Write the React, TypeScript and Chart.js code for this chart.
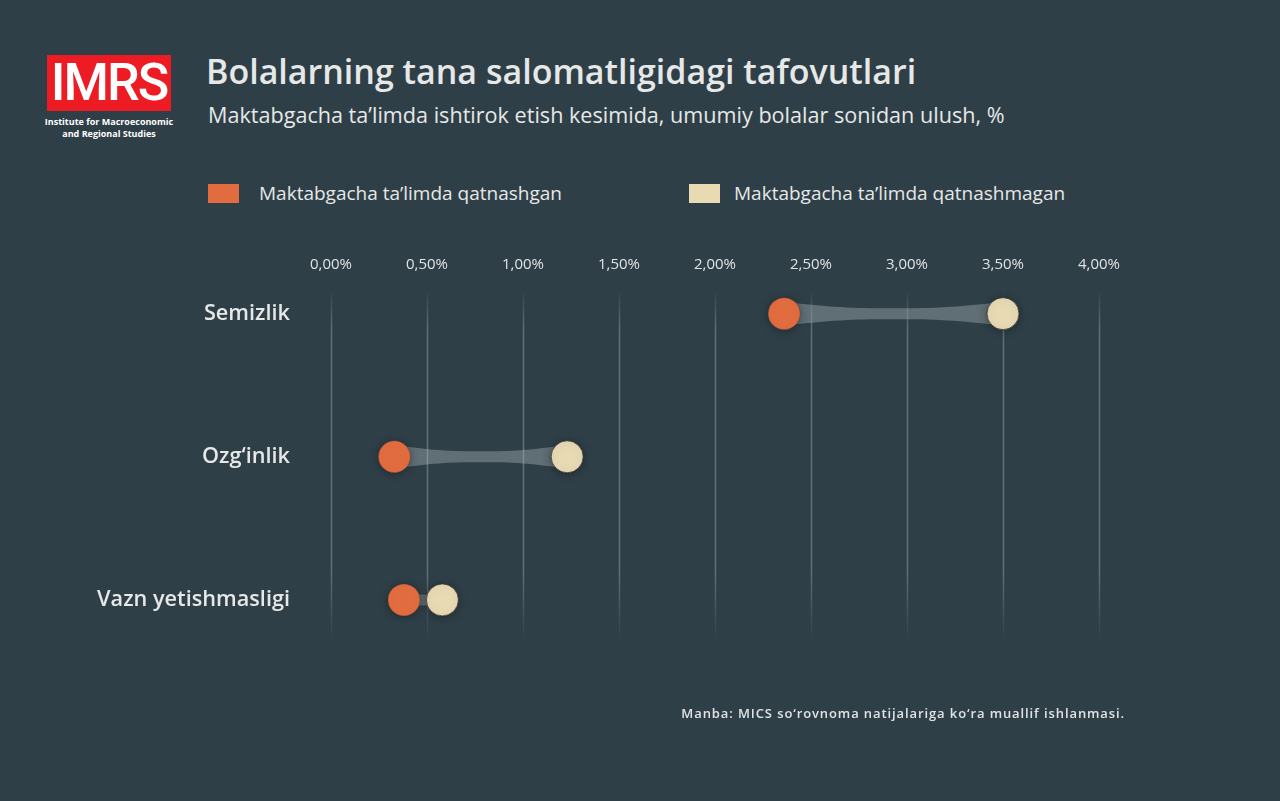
import React, { useEffect, useRef } from "react";
import { Chart, registerables } from "chart.js";

Chart.register(...registerables);

const categories = ["Semizlik", "Ozg‘inlik", "Vazn yetishmasligi"];
const attendedValues = [2.36, 0.33, 0.38];
const notAttendedValues = [3.5, 1.23, 0.58];
const xTicks = [0, 0.5, 1, 1.5, 2, 2.5, 3, 3.5, 4];
const seriesNames = ["Maktabgacha ta’limda qatnashgan", "Maktabgacha ta’limda qatnashmagan"];

const BG = "#2f3f47";
const ORANGE = "#e06c3f";
const CREAM = "#e8dab3";
const TEXT = "#e6e8e8";

const fmt = (v: number) => v.toFixed(2).replace(".", ",") + "%";

const connectorPlugin = {
  id: "connectors",
  beforeDatasetsDraw(chart: any) {
    const { ctx, scales } = chart;
    const xs = scales.x;
    const ys = scales.y;
    ctx.save();
    xTicks.forEach((t) => {
      const x = Math.round(xs.getPixelForValue(t)) + 0.5;
      const top = 288;
      const bottom = 642;
      const g = ctx.createLinearGradient(0, top, 0, bottom);
      g.addColorStop(0, "rgba(140,155,162,0)");
      g.addColorStop(0.12, "rgba(140,155,162,0.55)");
      g.addColorStop(0.8, "rgba(140,155,162,0.55)");
      g.addColorStop(1, "rgba(140,155,162,0)");
      ctx.strokeStyle = g;
      ctx.lineWidth = 1.5;
      ctx.beginPath();
      ctx.moveTo(x, top);
      ctx.lineTo(x, bottom);
      ctx.stroke();
    });
    categories.forEach((_, i) => {
      const x1 = xs.getPixelForValue(attendedValues[i]);
      const x2 = xs.getPixelForValue(notAttendedValues[i]);
      const y = ys.getPixelForValue(i);
      const endH = 12;
      const midH = 5.5;
      const mx = (x1 + x2) / 2;
      const d = (x2 - x1) / 2;
      ctx.fillStyle = "rgba(175,188,192,0.38)";
      ctx.beginPath();
      ctx.moveTo(x1, y - endH);
      ctx.bezierCurveTo(x1 + d * 0.5, y - midH, mx - d * 0.3, y - midH, mx, y - midH);
      ctx.bezierCurveTo(mx + d * 0.3, y - midH, x2 - d * 0.5, y - midH, x2, y - endH);
      ctx.lineTo(x2, y + endH);
      ctx.bezierCurveTo(x2 - d * 0.5, y + midH, mx + d * 0.3, y + midH, mx, y + midH);
      ctx.bezierCurveTo(mx - d * 0.3, y + midH, x1 + d * 0.5, y + midH, x1, y + endH);
      ctx.closePath();
      ctx.fill();
    });
    ctx.restore();
  },
  beforeDatasetDraw(chart: any) {
    const ctx = chart.ctx;
    ctx.save();
    ctx.shadowColor = "rgba(0,0,0,0.35)";
    ctx.shadowBlur = 8;
    ctx.shadowOffsetY = 1;
  },
  afterDatasetDraw(chart: any) {
    chart.ctx.restore();
  },
};

export default function App() {
  const ref = useRef<HTMLCanvasElement | null>(null);

  useEffect(() => {
    if (!ref.current) return;
    const chart = new Chart(ref.current, {
      type: "scatter",
      data: {
        datasets: [
          {
            label: seriesNames[0],
            data: attendedValues.map((v, i) => ({ x: v, y: i })),
            backgroundColor: ORANGE,
            borderColor: "rgba(40,40,40,0.5)",
            borderWidth: 0.5,
            pointRadius: 16,
            pointHoverRadius: 16,
          },
          {
            label: seriesNames[1],
            data: notAttendedValues.map((v, i) => ({ x: v, y: i })),
            backgroundColor: CREAM,
            borderColor: "rgba(40,40,40,0.7)",
            borderWidth: 1,
            pointRadius: 16,
            pointHoverRadius: 16,
          },
        ],
      },
      options: {
        animation: false,
        responsive: false,
        maintainAspectRatio: false,
        layout: { padding: { left: 0, right: 181, top: 240, bottom: 161 } },
        plugins: {
          legend: { display: false },
          tooltip: { enabled: false },
        },
        scales: {
          x: {
            type: "linear",
            position: "top",
            min: 0,
            max: 4,
            afterBuildTicks: (s: any) => {
              s.ticks = xTicks.map((v) => ({ value: v }));
            },
            afterFit: (s: any) => {
              s.height = 45;
            },
            grid: { display: false, drawTicks: false },
            border: { display: false },
            ticks: {
              callback: (v: any) => fmt(Number(v)),
              color: "#dfe3e4",
              font: { family: "Open Sans", size: 15 },
              padding: 11,
              maxRotation: 0,
              autoSkip: false,
            },
          },
          y: {
            type: "linear",
            reverse: true,
            min: -0.2,
            max: 2.28,
            afterBuildTicks: (s: any) => {
              s.ticks = categories.map((_, i) => ({ value: i }));
            },
            afterFit: (s: any) => {
              s.width = 331;
            },
            grid: { display: false, drawTicks: false },
            border: { display: false },
            ticks: {
              callback: (v: any) => categories[Number(v)] ?? "",
              color: TEXT,
              font: { family: "Open Sans", size: 21.7, weight: 600 },
              padding: 41,
              autoSkip: false,
            },
          },
        },
      },
      plugins: [connectorPlugin],
    });
    return () => chart.destroy();
  }, []);

  const legendItem = (color: string, label: string, left: number, textLeft: number) => (
    <>
      <div style={{ position: "absolute", left, top: 184, width: 31, height: 19, background: color }} />
      <div style={{ position: "absolute", left: textLeft, top: 179, fontSize: 19, color: TEXT, lineHeight: "28px", whiteSpace: "nowrap" }}>
        {label}
      </div>
    </>
  );

  return (
    <div style={{ position: "fixed", left: 0, top: 0, width: 1280, height: 801, background: BG, fontFamily: "'Open Sans', sans-serif", overflow: "hidden" }}>
      <div style={{ position: "absolute", left: 47, top: 55, width: 124, height: 56, background: "#ed1c24", display: "flex", alignItems: "center", justifyContent: "center" }}>
        <span style={{ color: "#fff", fontFamily: "Roboto, sans-serif", fontWeight: 500, fontSize: 52, letterSpacing: -2, lineHeight: "56px" }}>IMRS</span>
      </div>
      <div style={{ position: "absolute", left: 30, top: 116, width: 158, textAlign: "center", color: "#fff", fontSize: 9, fontWeight: 700, lineHeight: "12px" }}>
        Institute for Macroeconomic<br />and Regional Studies
      </div>
      <div style={{ position: "absolute", left: 206, top: 48, fontSize: 34, fontWeight: 600, color: TEXT, whiteSpace: "nowrap", lineHeight: "46px" }}>
        Bolalarning tana salomatligidagi tafovutlari
      </div>
      <div style={{ position: "absolute", left: 208, top: 100, fontSize: 21.6, color: TEXT, whiteSpace: "nowrap", lineHeight: "30px" }}>
        Maktabgacha ta’limda ishtirok etish kesimida, umumiy bolalar sonidan ulush, %
      </div>
      {legendItem(ORANGE, seriesNames[0], 208, 259)}
      {legendItem(CREAM, seriesNames[1], 689, 734)}
      <canvas ref={ref} width={1280} height={801} style={{ position: "absolute", left: 0, top: 0, width: 1280, height: 801 }} />
      <div style={{ position: "absolute", right: 155, top: 704, fontSize: 13, fontWeight: 600, color: "#e0e3e4", letterSpacing: 0.9, whiteSpace: "nowrap" }}>
        Manba: MICS so‘rovnoma natijalariga ko‘ra muallif ishlanmasi.
      </div>
    </div>
  );
}
